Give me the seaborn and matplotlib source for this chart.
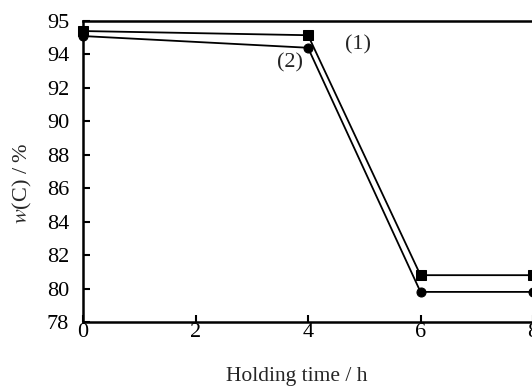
import matplotlib
matplotlib.use("Agg")
import matplotlib.pyplot as plt
import seaborn as sns
import pandas as pd

hours = [0, 4, 6, 8]
carbon_1 = [95.4, 95.15, 80.8, 80.8]
carbon_2 = [95.1, 94.4, 79.8, 79.8]
series_labels = ["(1)", "(2)"]
x_ticks = [0, 2, 4, 6, 8]
y_tick_pos = [78, 80, 82, 84, 86, 88, 90, 92, 94, 96]
y_tick_labels = ["78", "80", "82", "84", "86", "88", "90", "92", "94", "95"]

df = pd.DataFrame({
    "h": hours * 2,
    "w": carbon_1 + carbon_2,
    "s": [series_labels[0]] * 4 + [series_labels[1]] * 4,
})

sns.set_style("ticks")
plt.rcParams["font.family"] = ["Liberation Serif", "DejaVu Serif"]
plt.rcParams["mathtext.fontset"] = "stix"

fig = plt.figure(figsize=(5.32, 3.87), dpi=100)
ax = fig.add_axes([83/532, 65/387, 450/532, 301/387])

sns.lineplot(data=df, x="h", y="w", hue="s", style="s",
             markers={"(1)": "s", "(2)": "o"}, dashes=False,
             palette={"(1)": "black", "(2)": "black"},
             markersize=6.5, linewidth=1.3, markeredgecolor="black",
             legend=False, ax=ax, clip_on=False)

ax.set_xlim(0, 8)
ax.set_ylim(78, 96)
ax.set_xticks(x_ticks)
ax.set_yticks(y_tick_pos)
ax.set_yticklabels(y_tick_labels)
ax.tick_params(direction="in", length=5, width=1.5, labelsize=16, colors="black")
ax.tick_params(axis="x", pad=1)
ax.tick_params(axis="y", pad=10)
for side in ["left", "bottom", "top", "right"]:
    ax.spines[side].set_linewidth(1.8)
    ax.spines[side].set_color("black")

ax.set_xlabel("Holding time / h", fontsize=15.5)
ax.set_ylabel(r"$w$(C) / %", fontsize=16)
ax.xaxis.set_label_coords(0.4756, -0.148)
ax.yaxis.set_label_coords(-0.11, 0.462)

ax.text(4.89, 94.6, series_labels[0], fontsize=16, ha="center", va="center")
ax.text(3.68, 93.5, series_labels[1], fontsize=16, ha="center", va="center")

fig.savefig("out.png", dpi=100)
